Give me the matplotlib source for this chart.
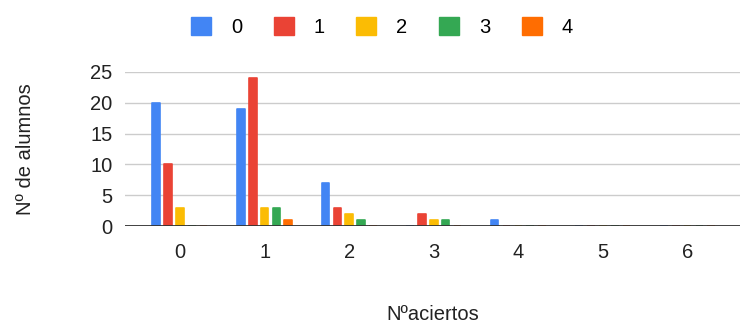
import numpy as np
import matplotlib.pyplot as plt
from matplotlib.patches import Patch

plt.rcParams['font.family'] = ['Liberation Sans', 'DejaVu Sans']

# Number of students per number of correct answers, one series per group
aciertos = ['0', '1', '2', '3', '4', '5', '6']
series_names = ['0', '1', '2', '3', '4']
s0 = [20, 19, 7, 0, 1, 0, 0]
s1 = [10, 24, 3, 2, 0, 0, 0]
s2 = [3, 3, 2, 1, 0, 0, 0]
s3 = [0, 3, 1, 1, 0, 0, 0]
s4 = [0, 1, 0, 0, 0, 0, 0]
colors = ['#4285F4', '#EA4335', '#FBBC04', '#34A853', '#FF6D01']

fig = plt.figure(figsize=(7.47, 3.25), dpi=100)
ax = fig.add_axes([125 / 747, 99 / 325, 615 / 747, 154 / 325])

x = np.arange(len(aciertos))
step = 0.14
width = 0.09
for i, vals in enumerate([s0, s1, s2, s3, s4]):
    ax.bar(x + (i - 2) * step, vals, width=width, color=colors[i],
           edgecolor=colors[i], linewidth=1.2, joinstyle='round', zorder=3)

ax.set_xlim(-0.65, 6.62)
ax.set_ylim(0, 25)
ax.set_yticks([0, 5, 10, 15, 20, 25])
ax.set_xticks(x)
ax.set_xticklabels(aciertos)
ax.grid(axis='y', color='#cccccc', linewidth=1, zorder=0)
ax.axhline(0, color='#333333', linewidth=1.3, zorder=4)
for s in ax.spines.values():
    s.set_visible(False)
ax.tick_params(axis='x', length=0, pad=12, labelsize=14.5, labelcolor='#222222')
ax.tick_params(axis='y', length=0, pad=9, labelsize=14.5, labelcolor='#222222')

ax.set_xlabel('Nºaciertos', fontsize=14.5, color='#222222', va='center')
ax.xaxis.set_label_coords(0.5, -89 / 154)
ax.set_ylabel('Nº de alumnos', fontsize=14.5, color='#222222', labelpad=40)

handles = [Patch(facecolor=c, edgecolor=c, label=n) for c, n in zip(colors, series_names)]
fig.legend(handles=handles, loc='center', bbox_to_anchor=(382 / 747, 1 - 27 / 325),
           ncol=5, frameon=False, fontsize=14.5, handlelength=1.0, handleheight=1.0,
           handletextpad=1.0, columnspacing=1.55)

fig.savefig('out.png', dpi=100)
